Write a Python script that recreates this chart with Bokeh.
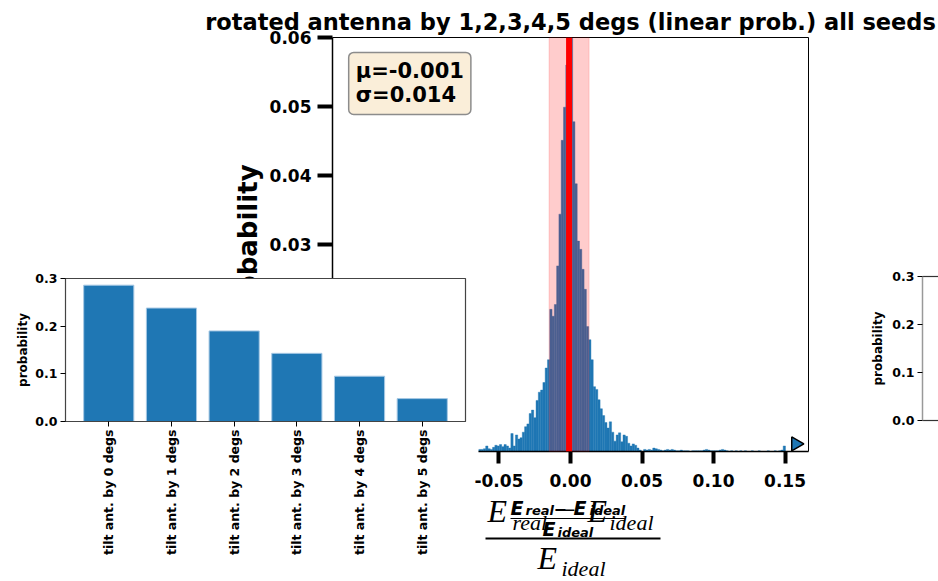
import math
from bokeh.plotting import figure
from bokeh.models import (Range1d, FactorRange, LinearAxis, FixedTicker, PrintfTickFormatter,
                          BoxAnnotation, Span, Label, ColumnDataSource)
from bokeh.core.properties import value
from bokeh.embed import file_html
from bokeh.resources import INLINE

# ---------------- data ----------------
TITLE = "rotated antenna by 1,2,3,4,5 degs (linear prob.) all seeds"

HIST_START = -0.0641
HIST_BIN_WIDTH = 0.0016
HIST_PROBS = [
    0.0003, 0.0003, 0.0004, 0.0008, 0.0004, 0.0003, 0.0006, 0.0009, 0.0008, 0.0010,
    0.0007, 0.0010, 0.0008, 0.0005, 0.0026, 0.0008, 0.0024, 0.0018, 0.0020, 0.0028,
    0.0036, 0.0040, 0.0055, 0.0060, 0.0049, 0.0074, 0.0086, 0.0089, 0.0100, 0.0121,
    0.0133, 0.0206, 0.0196, 0.0213, 0.0269, 0.0344, 0.0451, 0.0499, 0.0560, 0.0620,
    0.0650, 0.0478, 0.0388, 0.0305, 0.0293, 0.0264, 0.0235, 0.0181, 0.0162, 0.0133,
    0.0094, 0.0090, 0.0075, 0.0062, 0.0052, 0.0042, 0.0034, 0.0043, 0.0028, 0.0015,
    0.0024, 0.0027, 0.0014, 0.0024, 0.0022, 0.0012, 0.0008, 0.0011, 0.0009, 0.0005,
    0.0002, 0.0000, 0.0003, 0.0002, 0.0003, 0.0002, 0.0005, 0.0004, 0.0003, 0.0002,
    0.0001, 0.0002, 0.0003, 0.0002, 0.0003, 0.0002, 0.0001, 0.0001, 0.0002, 0.0001,
    0.0001, 0.0001, 0.0000, 0.0001, 0.0001, 0.0001, 0.0001, 0.0001, 0.0002, 0.0003,
    0.0002, 0.0001, 0.0001, 0.0001, 0.0001, 0.0002, 0.0003, 0.0002, 0.0001, 0.0000,
    0.0001, 0.0000, 0.0001, 0.0000, 0.0001, 0.0000, 0.0001, 0.0000, 0.0000, 0.0001,
    0.0000, 0.0000, 0.0001, 0.0000, 0.0000, 0.0000, 0.0001, 0.0000, 0.0000, 0.0001,
    0.0000, 0.0001, 0.0002, 0.0008,
]
MU = -0.001
SIGMA = 0.014
STATS_TEXT = ["μ=-0.001", "σ=0.014"]
HIST_X_TICKS = [-0.05, 0.00, 0.05, 0.10, 0.15]
HIST_Y_TICKS = [0.03, 0.04, 0.05, 0.06]
OUTLIER_X = [0.1575]
OUTLIER_Y = [0.0011]

TILT_LABELS = ["tilt ant. by 0 degs", "tilt ant. by 1 degs", "tilt ant. by 2 degs",
               "tilt ant. by 3 degs", "tilt ant. by 4 degs", "tilt ant. by 5 degs"]
TILT_PROBS = [0.286, 0.238, 0.190, 0.143, 0.095, 0.048]
TILT_Y_TICKS = [0.0, 0.1, 0.2, 0.3]

# ---------------- styles ----------------
BLUE = "#1f77b4"
FONT = "DejaVu Sans"
X0, X1 = -0.1664, 0.1664
Y0, Y1 = 0.0, 0.06


def place(left, top):
    return {"position": "absolute", "left": f"{left}px", "top": f"{top}px"}


# ---------------- main histogram ----------------
main = figure(width=938, height=581, x_range=Range1d(X0, X1), y_range=Range1d(Y0, Y1),
              output_backend="svg", toolbar_location=None, x_axis_type=None, y_axis_type=None,
              min_border_left=332, min_border_right=130, min_border_top=37, min_border_bottom=130,
              outline_line_color=None, background_fill_color="white", border_fill_color="white")
main.styles = place(0, 0)


def style_axis(ax, size, tick_w, tick_out, standoff):
    ax.axis_line_color = "black"
    ax.axis_line_width = 1.5
    ax.major_tick_line_color = "black"
    ax.major_tick_line_width = tick_w
    ax.major_tick_out = tick_out
    ax.major_tick_in = 0
    ax.minor_tick_line_color = None
    ax.major_label_text_font = FONT
    ax.major_label_text_font_style = "bold"
    ax.major_label_text_font_size = size
    ax.major_label_text_color = "black"
    ax.major_label_standoff = standoff


yax = LinearAxis(ticker=FixedTicker(ticks=HIST_Y_TICKS), formatter=PrintfTickFormatter(format="%.2f"),
                 bounds=(0.025, Y1), axis_label="probability")
style_axis(yax, "17px", 4, 15, 6)
yax.axis_label_text_font = FONT
yax.axis_label_text_font_style = "bold"
yax.axis_label_text_font_size = "26px"
yax.axis_label_text_color = "black"
yax.axis_label_standoff = 4
main.add_layout(yax, "left")

xax = LinearAxis(ticker=FixedTicker(ticks=HIST_X_TICKS), formatter=PrintfTickFormatter(format="%.2f"),
                 bounds=(HIST_START, X1))
style_axis(xax, "17px", 4, 12, 10)
main.add_layout(xax, "below")

for loc in ("right", "above"):
    ax = LinearAxis(ticker=FixedTicker(ticks=[]), axis_line_color="black", axis_line_width=1,
                    major_tick_line_color=None, minor_tick_line_color=None, major_tick_out=0,
                    major_tick_in=0, major_label_text_font_size="0px", major_label_standoff=0)
    main.add_layout(ax, loc)

main.title.text = TITLE
main.title.align = "center"
main.title.text_font = FONT
main.title.text_font_style = "bold"
main.title.text_font_size = "22.5px"
main.title.text_color = "black"
main.title.standoff = 5

lefts = [HIST_START + i * HIST_BIN_WIDTH for i in range(len(HIST_PROBS))]
rights = [l + HIST_BIN_WIDTH for l in lefts]
main.quad(left=lefts, right=rights, bottom=0, top=HIST_PROBS,
          fill_color=BLUE, line_color=BLUE, line_width=0.4)

main.add_layout(BoxAnnotation(left=MU - SIGMA, right=MU + SIGMA, fill_color="red", fill_alpha=0.2,
                              line_color="red", line_alpha=0.15, line_width=1))
main.add_layout(Span(location=MU, dimension="height", line_color="red", line_width=6))

main.scatter(x=OUTLIER_X, y=OUTLIER_Y, marker="triangle", angle=-math.pi / 2, size=14,
             fill_color=BLUE, line_color="black", line_width=1.5)

main.add_layout(Label(x=X0 + 0.034 * (X1 - X0), y=Y1 - 0.036 * (Y1 - Y0), anchor="top_left",
                      text="\n".join(STATS_TEXT), text_font=FONT, text_font_style="bold",
                      text_font_size="21px", text_line_height=1.0, text_color="black",
                      padding=7, border_radius=5, background_fill_color="wheat",
                      background_fill_alpha=0.5, border_line_color="#8c8c8c", border_line_width=1.5))

# ---------------- x label (formula) overlay ----------------
XL_LEFT, XL_TOP, XL_W, XL_H = 470, 485, 210, 96
xl = figure(width=XL_W, height=XL_H, x_range=Range1d(0, XL_W), y_range=Range1d(0, XL_H), title=None,
            x_axis_type=None, y_axis_type=None, output_backend="svg", toolbar_location=None,
            outline_line_color=None, background_fill_alpha=0, border_fill_alpha=0, min_border=0)
xl.styles = place(XL_LEFT, XL_TOP)


def lx(px):
    return px - XL_LEFT


def ly(py, size=0.0):
    # baseline position; text glyphs sit ~0.4 em lower than the given point
    return XL_TOP + XL_H - py + 0.4 * size


# (text, left px, baseline px, font size px)
serif_parts = [("E", 487, 523, 32), ("real", 512, 531, 22), ("−", 555, 523, 32),
               ("E", 587, 523, 32), ("ideal", 609, 531, 22),
               ("E", 537, 570, 32), ("ideal", 561, 577, 22)]
bold_parts = [("E", 510, 515, 19), ("real", 525, 515, 13), ("−", 553, 515, 16),
              ("E", 573, 515, 19), ("ideal", 589, 515, 13),
              ("E", 542, 536, 19), ("ideal", 557, 537, 13)]
src_serif = ColumnDataSource(dict(x=[lx(p[1]) for p in serif_parts],
                                  y=[ly(p[2], p[3]) for p in serif_parts],
                                  text=[p[0] for p in serif_parts],
                                  size=[f"{p[3]}px" for p in serif_parts]))
src_bold = ColumnDataSource(dict(x=[lx(p[1]) for p in bold_parts],
                                 y=[ly(p[2], p[3]) for p in bold_parts],
                                 text=[p[0] for p in bold_parts],
                                 size=[f"{p[3]}px" for p in bold_parts]))
xl.text(x="x", y="y", text="text", source=src_serif, text_font=value("Liberation Serif"),
        text_font_style="italic", text_font_size="size", text_baseline="alphabetic",
        text_align="left", text_color="black")
xl.segment(x0=[lx(485)], y0=[ly(538)], x1=[lx(660)], y1=[ly(538)], line_color="black", line_width=2)
xl.text(x="x", y="y", text="text", source=src_bold, text_font=value(FONT),
        text_font_style="bold italic", text_font_size="size", text_baseline="alphabetic",
        text_align="left", text_color="black")
xl.segment(x0=[lx(510)], y0=[ly(518)], x1=[lx(625)], y1=[ly(518)], line_color="black", line_width=1.2)

# ---------------- left bar chart ----------------
bars = figure(width=470, height=294, title=None,
              x_range=FactorRange(factors=TILT_LABELS, range_padding=0.19, range_padding_units="absolute"),
              y_range=Range1d(0, 0.3), output_backend="svg", toolbar_location=None,
              min_border_left=65, min_border_right=5, min_border_top=8, min_border_bottom=143,
              background_fill_color="white", border_fill_alpha=0,
              outline_line_color="#444444", outline_line_width=1.2)
bars.styles = place(0, 270)
bars.vbar(x=TILT_LABELS, top=TILT_PROBS, width=0.8, fill_color=BLUE, line_color="#a6c8e4", line_width=1)
bars.grid.visible = False
for ax in (bars.xaxis[0], bars.yaxis[0]):
    ax.axis_line_color = "#444444"
    ax.major_tick_line_color = "black"
    ax.major_tick_out = 5
    ax.major_tick_in = 0
    ax.minor_tick_line_color = None
    ax.major_label_text_font = FONT
    ax.major_label_text_font_style = "bold"
    ax.major_label_text_font_size = "12.5px"
    ax.major_label_text_color = "black"
    ax.major_label_standoff = 3
bars.xaxis[0].major_label_orientation = math.pi / 2
bars.yaxis[0].ticker = FixedTicker(ticks=TILT_Y_TICKS)
bars.yaxis[0].formatter = PrintfTickFormatter(format="%.1f")
bars.yaxis[0].axis_label = "probability"
bars.yaxis[0].axis_label_text_font = FONT
bars.yaxis[0].axis_label_text_font_style = "bold"
bars.yaxis[0].axis_label_text_font_size = "12px"
bars.yaxis[0].axis_label_text_color = "black"
bars.yaxis[0].axis_label_standoff = 2

# ---------------- right bar chart (cut at the window edge) ----------------
right = figure(width=100, height=162, x_range=Range1d(-0.69, -0.435), y_range=Range1d(0, 0.3),
               output_backend="svg", toolbar_location=None, x_axis_type=None, title=None,
               min_border_left=84, min_border_right=0, min_border_top=8, min_border_bottom=10,
               background_fill_color="white", border_fill_alpha=0, outline_line_color=None)
right.styles = place(838, 268)
right.vbar(x=list(range(len(TILT_PROBS))), top=TILT_PROBS, width=0.8, fill_color=BLUE)
right.grid.visible = False
ry = right.yaxis[0]
ry.axis_line_color = "#999999"
ry.axis_line_width = 1.5
ry.major_tick_line_color = "black"
ry.major_tick_out = 5
ry.major_tick_in = 0
ry.minor_tick_line_color = None
ry.ticker = FixedTicker(ticks=TILT_Y_TICKS)
ry.formatter = PrintfTickFormatter(format="%.1f")
ry.major_label_text_font = FONT
ry.major_label_text_font_style = "bold"
ry.major_label_text_font_size = "12.5px"
ry.major_label_text_color = "black"
ry.major_label_standoff = 3
ry.axis_label = "probability"
ry.axis_label_text_font = FONT
ry.axis_label_text_font_style = "bold"
ry.axis_label_text_font_size = "12px"
ry.axis_label_text_color = "black"
ry.axis_label_standoff = 4
for loc in ("above", "below"):
    ax = LinearAxis(ticker=FixedTicker(ticks=[]), axis_line_color="#333333", axis_line_width=1.2,
                    major_tick_line_color=None, minor_tick_line_color=None, major_tick_out=0,
                    major_tick_in=0, major_label_text_font_size="0px", major_label_standoff=0)
    right.add_layout(ax, loc)

open("out.html", "w").write(file_html([main, xl, bars, right], INLINE))
